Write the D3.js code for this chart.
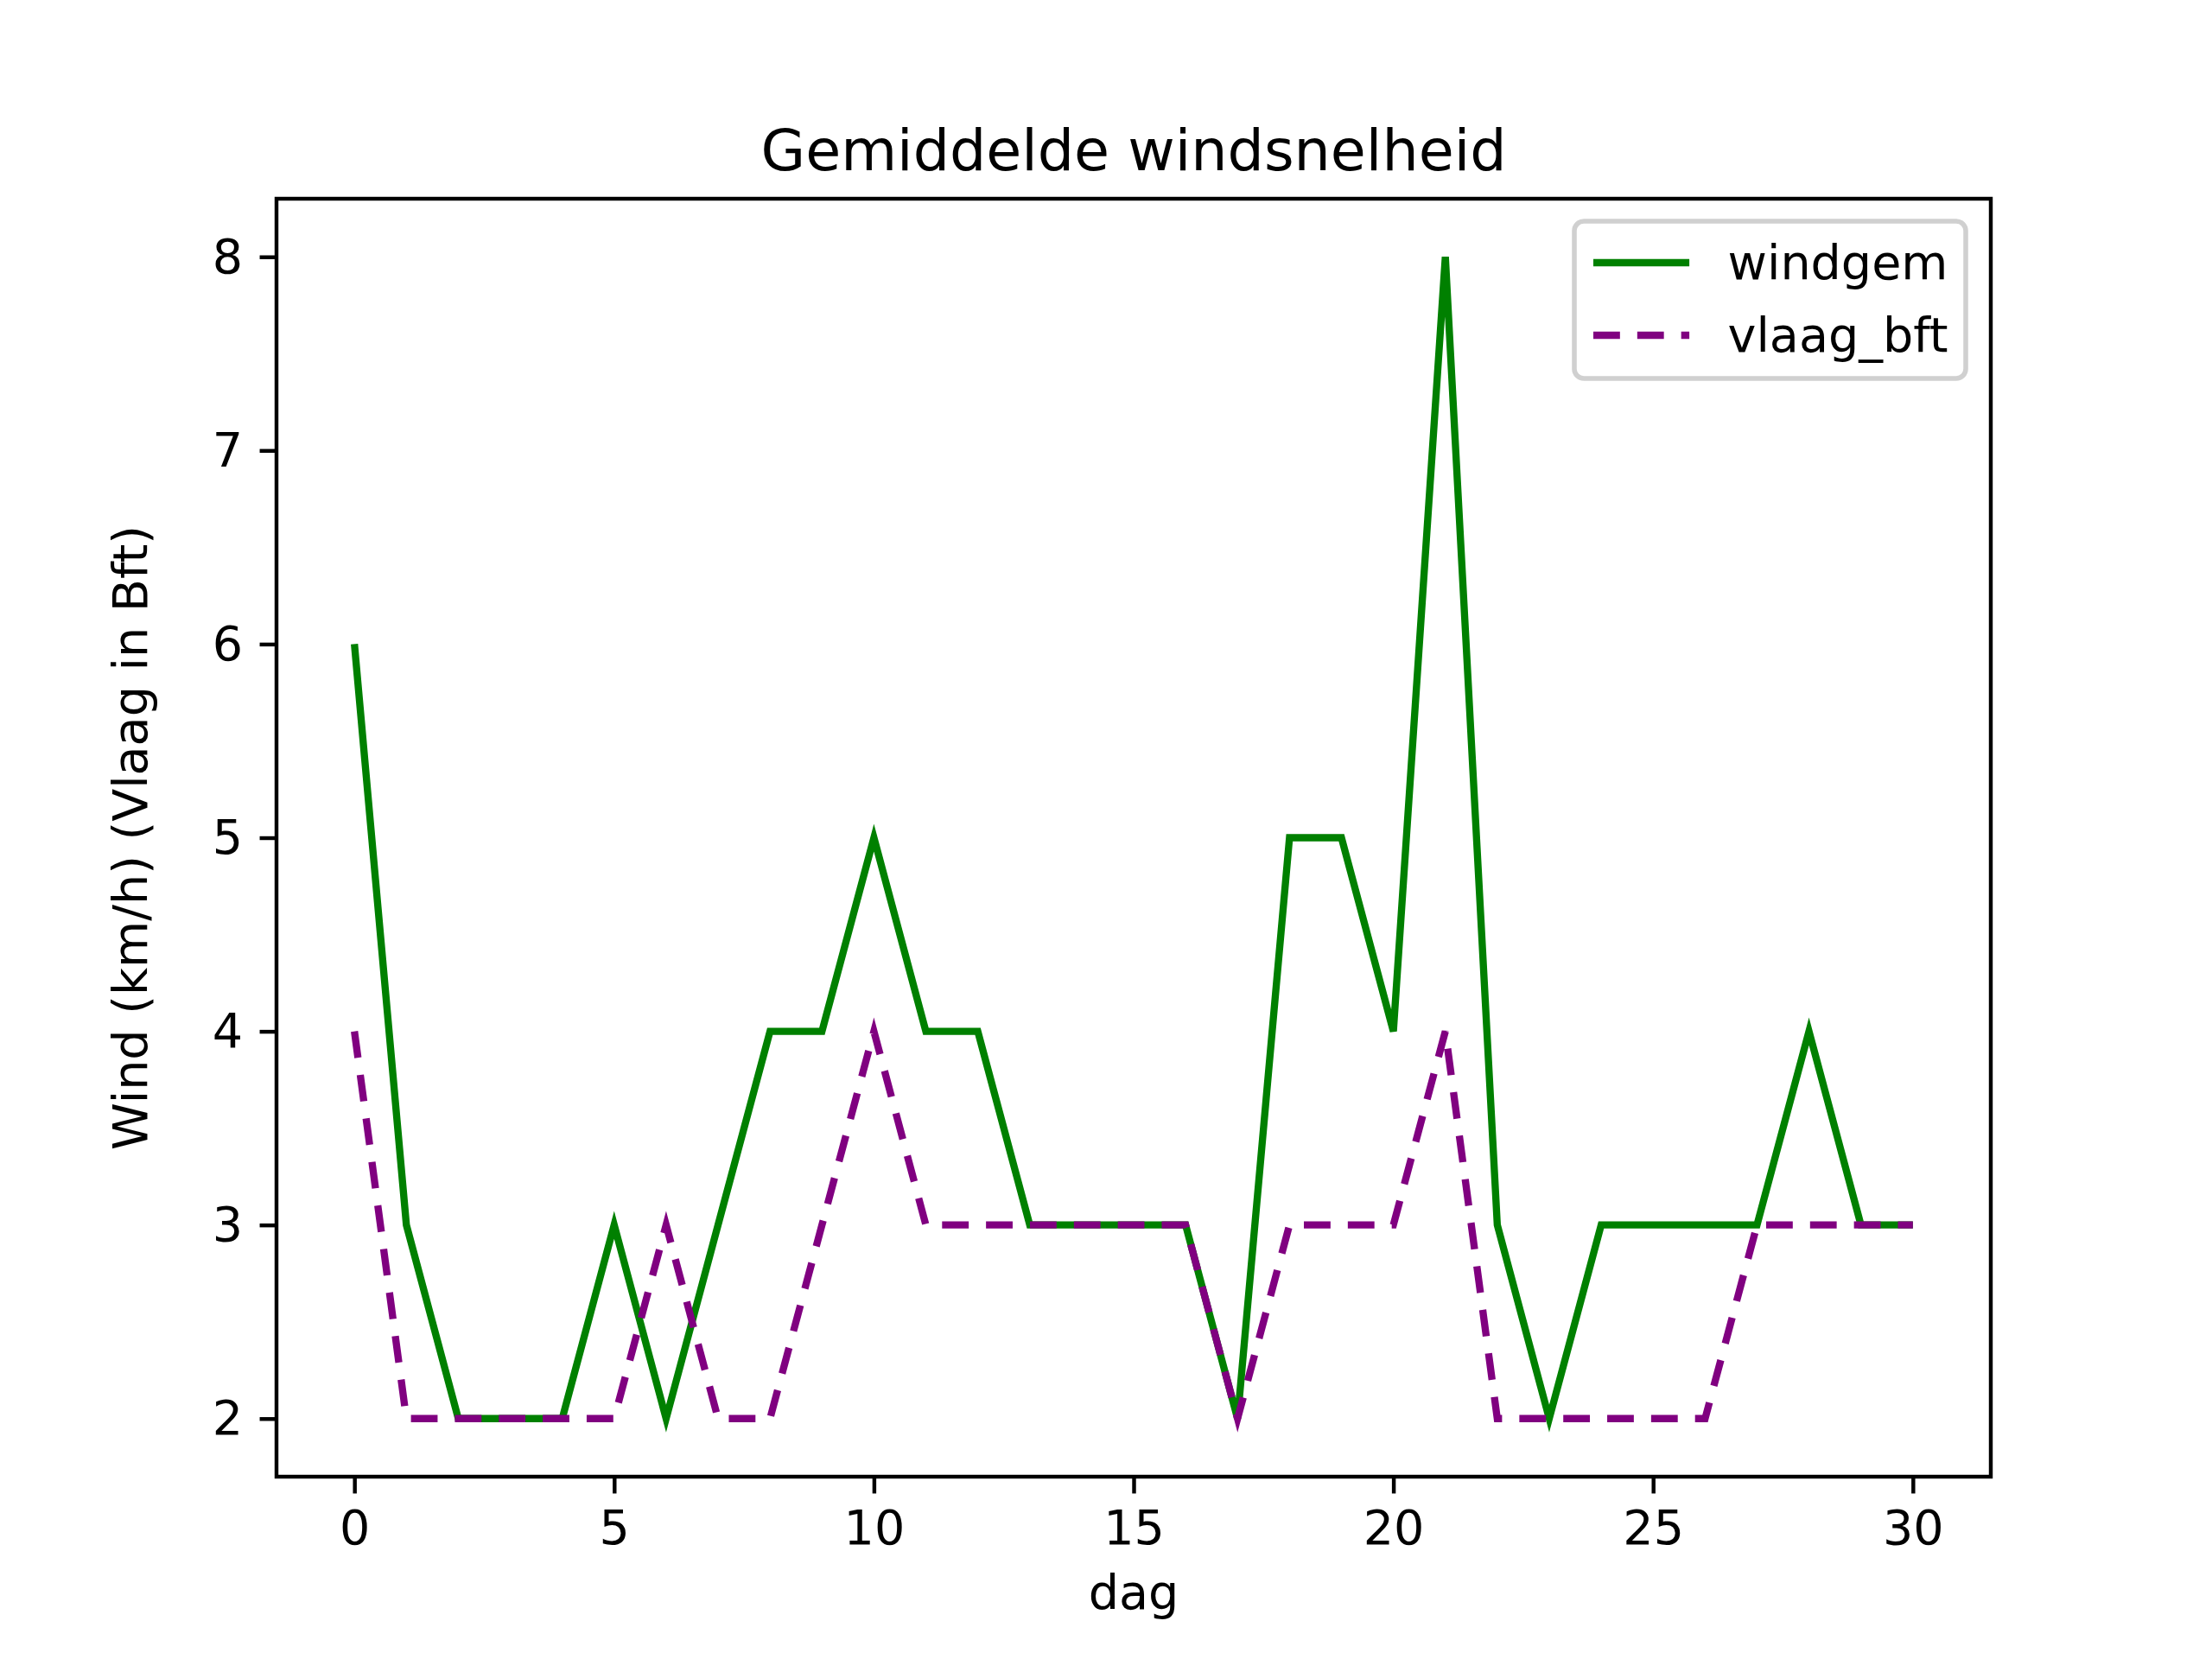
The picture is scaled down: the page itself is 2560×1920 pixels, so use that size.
<!DOCTYPE html>
<html>
<head>
  <meta charset="utf-8">
  <script src="https://d3js.org/d3.v7.min.js"></script>
  <style type="text/css">
    body { margin: 0; background: #fff; }
    text { font-family: "DejaVu Sans", sans-serif; }
  </style>
</head>
<body>
<script type="text/javascript">
  // data
  var dagen = d3.range(0, 31);
  var windgem = [6, 3, 2, 2, 2, 3, 2, 3, 4, 4, 5, 4, 4, 3, 3, 3, 3, 2, 5, 5, 4, 8, 3, 2, 3, 3, 3, 3, 4, 3, 3];
  var vlaagBft = [4, 2, 2, 2, 2, 2, 3, 2, 2, 3, 4, 3, 3, 3, 3, 3, 3, 2, 3, 3, 3, 4, 2, 2, 2, 2, 2, 3, 3, 3, 3];
  var xTicks = [0, 5, 10, 15, 20, 25, 30];
  var yTicks = [2, 3, 4, 5, 6, 7, 8];

  var width = 2560, height = 1920;
  var axLeft = 320, axRight = 2304, axTop = 230, axBottom = 1709;
  var pt = 400 / 72;   // matplotlib at 400 dpi
  var fs = 10 * pt;

  var svg = d3.select("body").append("svg")
    .attr("width", width).attr("height", height);

  var x = d3.scaleLinear().domain([-1.5, 31.5]).range([axLeft, axRight]);
  var y = d3.scaleLinear().domain([1.7, 8.3]).range([axBottom, axTop]);

  //Title
  svg.append("text")
    .attr("x", (axLeft + axRight) / 2).attr("y", axTop - 6 * pt)
    .attr("text-anchor", "middle").style("font-size", 12 * pt + "px")
    .text("Gemiddelde windsnelheid");

  //Lines
  var line = function (vals) {
    return d3.line().x(function (d, i) { return x(dagen[i]); }).y(function (d) { return y(d); })(vals);
  };
  svg.append("path").attr("d", line(windgem))
    .attr("fill", "none").attr("stroke", "green").attr("stroke-width", 1.5 * pt);
  svg.append("path").attr("d", line(vlaagBft))
    .attr("fill", "none").attr("stroke", "purple").attr("stroke-width", 1.5 * pt)
    .attr("stroke-dasharray", (5.55 * pt) + "," + (3.6 * pt));

  //Axes
  var xAxis = svg.append("g").attr("transform", "translate(0," + axBottom + ")")
    .call(d3.axisBottom(x).tickValues(xTicks).tickSize(3.5 * pt).tickPadding(3.5 * pt).tickFormat(d3.format("d")));
  var yAxis = svg.append("g").attr("transform", "translate(" + axLeft + ",0)")
    .call(d3.axisLeft(y).tickValues(yTicks).tickSize(3.5 * pt).tickPadding(3.5 * pt).tickFormat(d3.format("d")));
  [xAxis, yAxis].forEach(function (a) {
    a.select(".domain").remove();
    a.selectAll("line").attr("stroke", "#000").attr("stroke-width", 0.8 * pt);
    a.selectAll("text").style("font-size", fs + "px").style("font-family", "DejaVu Sans").attr("fill", "#000");
  });

  svg.append("rect").attr("x", axLeft).attr("y", axTop)
    .attr("width", axRight - axLeft).attr("height", axBottom - axTop)
    .attr("fill", "none").attr("stroke", "#000").attr("stroke-width", 0.8 * pt);

  svg.append("text").attr("x", (axLeft + axRight) / 2).attr("y", axBottom + 3.5 * pt * 2 + fs * 2.05)
    .attr("text-anchor", "middle").style("font-size", fs + "px").text("dag");
  svg.append("text")
    .attr("transform", "translate(" + (axLeft - 27 * pt) + "," + ((axTop + axBottom) / 2) + ") rotate(-90)")
    .attr("text-anchor", "middle").style("font-size", fs + "px")
    .text("Wind (km/h) (Vlaag in Bft)");

  //Legend
  var legend = [
    { name: "windgem", color: "green", dash: null },
    { name: "vlaag_bft", color: "purple", dash: (5.55 * pt) + "," + (3.6 * pt) }
  ];
  var lx = 1822, ly = 256, lw = 453, lh = 182;
  svg.append("rect").attr("x", lx).attr("y", ly).attr("width", lw).attr("height", lh)
    .attr("rx", 0.2 * fs).attr("fill", "#fff").attr("fill-opacity", 0.8)
    .attr("stroke", "#d0d0d0").attr("stroke-width", 1 * pt);
  legend.forEach(function (d, i) {
    var cy = ly + 48 + i * 84;
    svg.append("line").attr("x1", lx + 22).attr("x2", lx + 22 + 2 * fs)
      .attr("y1", cy).attr("y2", cy)
      .attr("stroke", d.color).attr("stroke-width", 1.5 * pt)
      .attr("stroke-dasharray", d.dash);
    svg.append("text").attr("x", lx + 22 + 2.8 * fs).attr("y", cy).attr("dy", "0.35em")
      .style("font-size", fs + "px").text(d.name);
  });
</script>
</body>
</html>
